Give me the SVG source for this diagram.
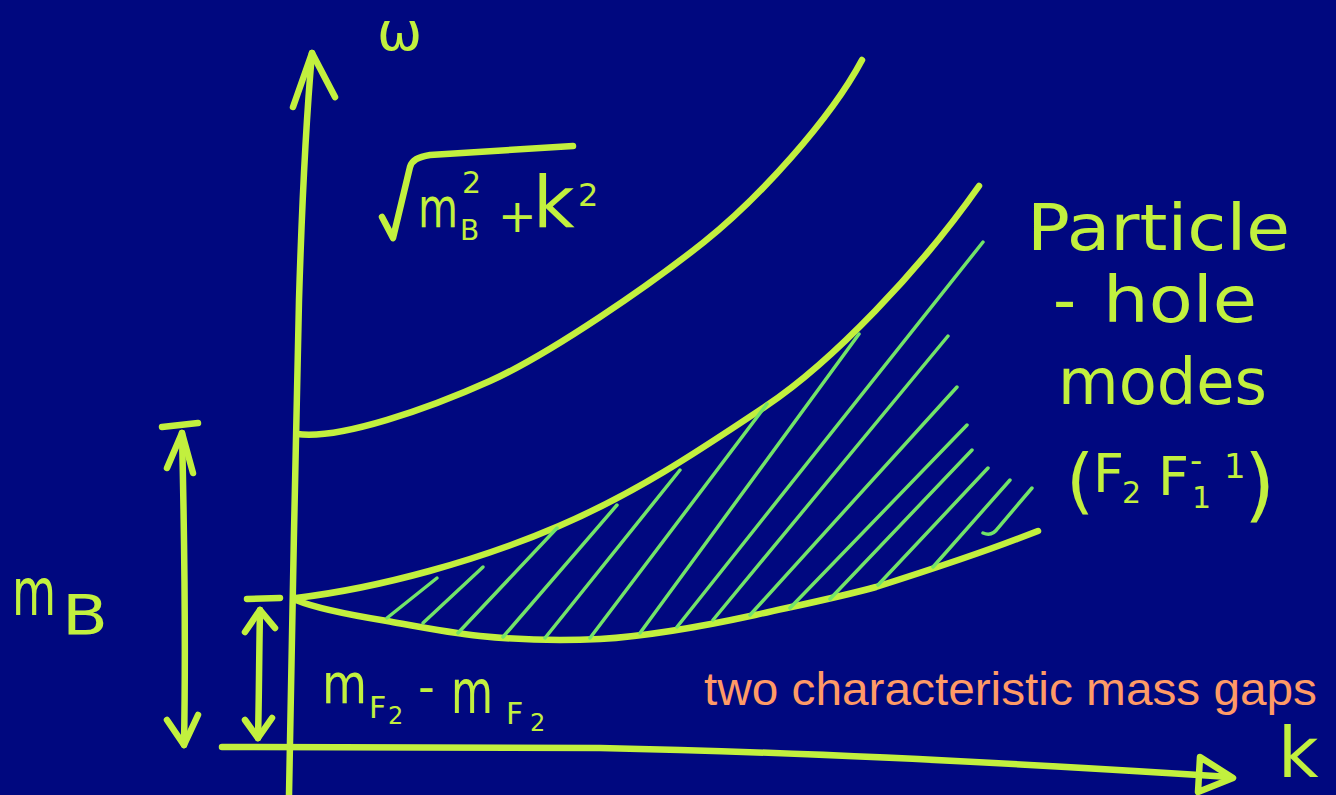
<svg xmlns="http://www.w3.org/2000/svg" width="1336" height="795" viewBox="0 0 1336 795">
<style>
.ink{fill:none;stroke:#c2f03e;stroke-width:6.5;stroke-linecap:round;stroke-linejoin:round}
.hatch{fill:none;stroke:#72e468;stroke-width:3.5;stroke-linecap:round}
.hw{fill:#c2f03e;font-family:"DejaVu Sans","Liberation Sans",sans-serif}
.note{fill:#ff9a66;font-family:"Liberation Sans",Arial,sans-serif;font-size:47px}
</style>
<rect width="1336" height="795" fill="#00087f"/>

<g id="axes">
  <path class="ink" d="M289,795 C291,650 296,450 299,300 C302,200 307,110 312,53"/>
  <path class="ink" d="M293,107 L312,53 L335,97"/>
  <path class="ink" d="M222,747 L600,748 C800,752 1000,762 1230,777"/>
  <path class="ink" d="M1200,757 L1233,778 L1198,792 Z" fill="#e8b030"/>
</g>

<g id="curves">
  <path id="boson" class="ink" d="M297,434 C340,440 430,408 490,381 C550,354 650,285 704,242 C758,199 830,120 862,60"/>
  <path id="continuum-top" class="ink" d="M296,598 C380,588 480,560 559,526 C638,492 700,450 766,406 C832,362 920,270 979,186"/>
  <path id="continuum-bottom" class="ink" d="M296,600 C315,608 350,615 387,621 C420,627 450,633 480,636 C520,640 560,641 600,639 C650,636 700,627 755,615 C800,605 840,597 876,587 C920,573 970,557 1017,539 L1038,531"/>
</g>

<g id="hatching">
  <path class="hatch" d="M387,618 L437,578"/>
  <path class="hatch" d="M423,623 L483,567"/>
  <path class="hatch" d="M458,633 L557,528"/>
  <path class="hatch" d="M503,637 L617,505"/>
  <path class="hatch" d="M545,638 L680,470"/>
  <path class="hatch" d="M590,638 L767,404"/>
  <path class="hatch" d="M640,633 L859,334"/>
  <path class="hatch" d="M677,627 L983,242"/>
  <path class="hatch" d="M713,620 L948,336"/>
  <path class="hatch" d="M750,615 L957,387"/>
  <path class="hatch" d="M790,608 L967,425"/>
  <path class="hatch" d="M830,599 L972,450"/>
  <path class="hatch" d="M878,585 L988,468"/>
  <path class="hatch" d="M933,567 L1010,480"/>
  <path class="hatch" d="M1032,488 L998,528 Q992,537 983,533"/>
</g>

<g id="gap-arrows">
  <path class="ink" d="M162,427 L198,423"/>
  <path class="ink" d="M182,433 C184,520 186,640 184,745"/>
  <path class="ink" d="M167,468 L182,433 L193,473"/>
  <path class="ink" d="M167,720 L184,745 L198,715"/>
  <path class="ink" d="M247,599 L280,598"/>
  <path class="ink" d="M260,610 C259,660 259,700 258,738"/>
  <path class="ink" d="M245,632 L260,610 L275,628"/>
  <path class="ink" d="M245,720 L258,738 L272,718"/>
</g>

<g id="labels">
  <text class="hw" x="377" y="50" font-size="54">ω</text>
  <g id="sqrt-label">
    <path class="ink" d="M382,217 L393,238 L410,167 C412,160 418,157 430,155 L573,146"/>
    <text class="hw" x="418" y="227" font-size="56" textLength="40" lengthAdjust="spacingAndGlyphs">m</text>
    <text class="hw" x="460" y="240" font-size="28">B</text>
    <text class="hw" x="462" y="193" font-size="30">2</text>
    <text class="hw" x="498" y="232" font-size="46">+</text>
    <text class="hw" x="533" y="227" font-size="72">k</text>
    <text class="hw" x="578" y="206" font-size="32">2</text>
  </g>
  <g id="ph-label">
    <text class="hw" x="1027" y="250" font-size="64" textLength="263" lengthAdjust="spacingAndGlyphs">Particle</text>
    <text class="hw" x="1053" y="322" font-size="64">-</text>
    <text class="hw" x="1103" y="322" font-size="64" textLength="154" lengthAdjust="spacingAndGlyphs">hole</text>
    <text class="hw" x="1058" y="404" font-size="64" textLength="209" lengthAdjust="spacingAndGlyphs">modes</text>
    <text class="hw" x="1066" y="505" font-size="72">(</text>
    <text class="hw" x="1093" y="492" font-size="54">F</text>
    <text class="hw" x="1122" y="503" font-size="30">2</text>
    <text class="hw" x="1158" y="495" font-size="54">F</text>
    <text class="hw" x="1192" y="508" font-size="30">1</text>
    <text class="hw" x="1190" y="472" font-size="34">-</text>
    <text class="hw" x="1224" y="478" font-size="34">1</text>
    <text class="hw" x="1244" y="512" font-size="80">)</text>
  </g>
  <g id="mB-label">
    <text class="hw" x="12" y="615" font-size="66" textLength="44" lengthAdjust="spacingAndGlyphs">m</text>
    <text class="hw" x="62" y="634" font-size="56" textLength="46" lengthAdjust="spacingAndGlyphs">B</text>
  </g>
  <g id="mF-label">
    <text class="hw" x="322" y="703" font-size="56" textLength="45" lengthAdjust="spacingAndGlyphs">m</text>
    <text class="hw" x="369" y="718" font-size="30">F</text>
    <text class="hw" x="388" y="724" font-size="24">2</text>
    <text class="hw" x="418" y="703" font-size="46">-</text>
    <text class="hw" x="451" y="713" font-size="60" textLength="42" lengthAdjust="spacingAndGlyphs">m</text>
    <text class="hw" x="506" y="724" font-size="30">F</text>
    <text class="hw" x="530" y="731" font-size="24">2</text>
  </g>
  <text class="hw" x="1278" y="777" font-size="70">k</text>
  <text class="note" x="704" y="705" textLength="613" lengthAdjust="spacingAndGlyphs">two characteristic mass gaps</text>
</g>
</svg>
